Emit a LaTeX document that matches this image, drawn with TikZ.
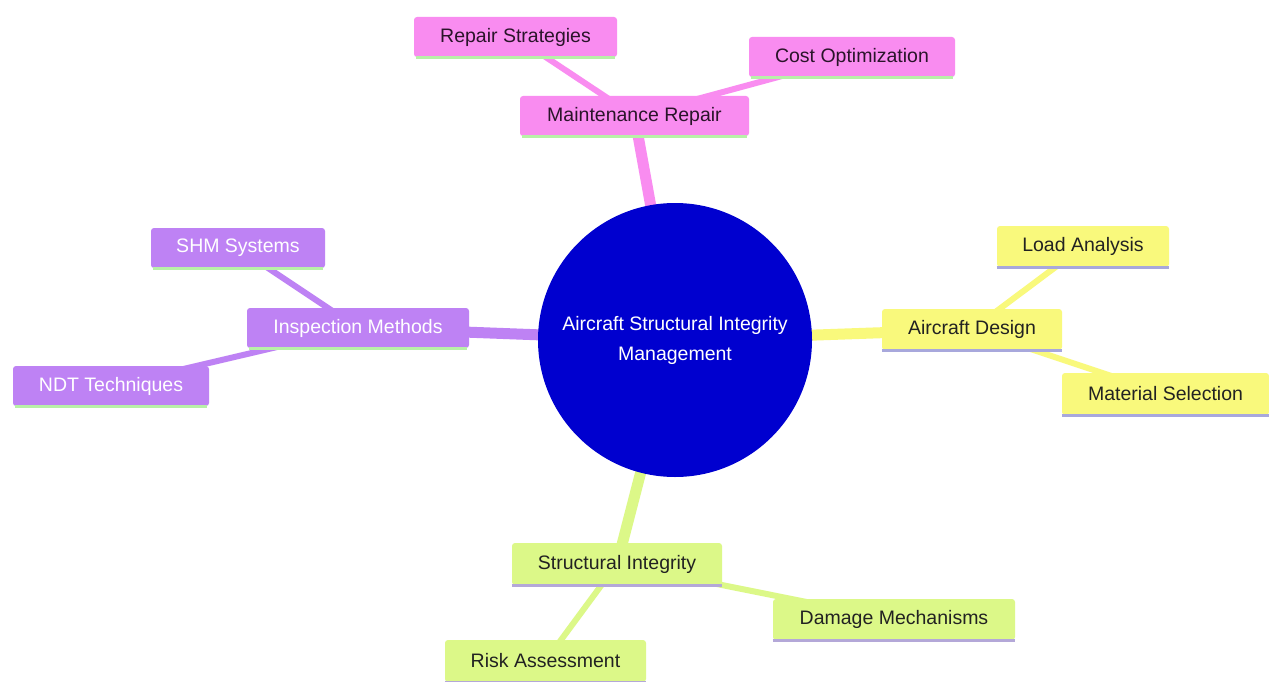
\documentclass[tikz,border=0pt]{standalone}
\usepackage{fontspec}
\setmainfont{Liberation Sans}
\usetikzlibrary{backgrounds}
\definecolor{pinkc}{HTML}{F98CF0}
\definecolor{purpc}{HTML}{BE82F4}
\definecolor{yelc}{HTML}{F9F97C}
\definecolor{grnc}{HTML}{DCF888}
\definecolor{bluec}{HTML}{0000CF}
\definecolor{ulgreen}{HTML}{B8F0A8}
\definecolor{ullav}{HTML}{A8A8DC}
\definecolor{ullav2}{HTML}{B4A8D8}
\definecolor{darktxt}{HTML}{222222}
\definecolor{pinktxt}{HTML}{2A142A}
\tikzset{
  mbox/.style={rectangle, rounded corners=3pt, inner sep=0pt, font=\fontsize{19.5}{23}\selectfont},
  pinkbox/.style={mbox, fill=pinkc, text=pinktxt},
  purpbox/.style={mbox, fill=purpc, text=white},
  yelbox/.style={mbox, fill=yelc, text=darktxt},
  grnbox/.style={mbox, fill=grnc, text=darktxt},
  ul/.style={line width=3pt},
  rootedge/.style={line width=11pt},
  subedge/.style={line width=6pt}
}
\begin{document}
\begin{tikzpicture}[x=1pt,y=-1pt]
\useasboundingbox (0,0) rectangle (1269,682);
% center
\node[circle, fill=bluec, minimum size=274pt, inner sep=0pt, text=white, align=center,
      font=\fontsize{19.5}{30}\selectfont] (root) at (675,340) {Aircraft Structural Integrity\\Management};
% pink section
\node[pinkbox, minimum width=229pt, minimum height=40pt] (mr) at (634.5,116) {Maintenance Repair};
\node[pinkbox, minimum width=203pt, minimum height=40pt] (rs) at (515.5,37) {Repair Strategies};
\node[pinkbox, minimum width=206pt, minimum height=40pt] (co) at (852,57) {Cost Optimization};
% purple section
\node[purpbox, minimum width=222pt, minimum height=40pt] (im) at (358,328) {Inspection Methods};
\node[purpbox, minimum width=174pt, minimum height=40pt] (shm) at (238,248) {SHM Systems};
\node[purpbox, minimum width=196pt, minimum height=40pt] (ndt) at (111,386) {NDT Techniques};
% yellow section
\node[yelbox, minimum width=180pt, minimum height=41pt] (ad) at (972,329.5) {Aircraft Design};
\node[yelbox, minimum width=172pt, minimum height=41pt] (la) at (1083,246.5) {Load Analysis};
\node[yelbox, minimum width=207pt, minimum height=42pt] (ms) at (1165.5,394) {Material Selection};
% green section
\node[grnbox, minimum width=210pt, minimum height=42pt] (si) at (617,564) {Structural Integrity};
\node[grnbox, minimum width=242pt, minimum height=41pt] (dm) at (894,619.5) {Damage Mechanisms};
\node[grnbox, minimum width=201pt, minimum height=42pt] (ra) at (545.5,661) {Risk Assessment};
% underlines
\foreach \n in {mr,rs,co,im,shm,ndt}{\draw[ul, ulgreen] ([xshift=2pt]\n.south west) -- ([xshift=-2pt]\n.south east);}
\foreach \n in {ad,la,ms}{\draw[ul, ullav] (\n.south west) -- (\n.south east);}
\foreach \n in {si,dm,ra}{\draw[ul, ullav2] (\n.south west) -- (\n.south east);}
% edges
\begin{scope}[on background layer]
\fill[white] (0,0) rectangle (1269,682);
\draw[rootedge, pinkc] (root.center) -- (mr.center);
\draw[subedge, pinkc] (mr.center) -- (rs.center);
\draw[subedge, pinkc] (mr.center) -- (co.center);
\draw[rootedge, purpc] (root.center) -- (im.center);
\draw[subedge, purpc] (im.center) -- (shm.center);
\draw[subedge, purpc] (im.center) -- (ndt.center);
\draw[rootedge, yelc] (root.center) -- (ad.center);
\draw[subedge, yelc] (ad.center) -- (la.center);
\draw[subedge, yelc] (ad.center) -- (ms.center);
\draw[rootedge, grnc] (root.center) -- (si.center);
\draw[subedge, grnc] (si.center) -- (dm.center);
\draw[subedge, grnc] (si.center) -- (ra.center);
\end{scope}
\end{tikzpicture}
\end{document}
